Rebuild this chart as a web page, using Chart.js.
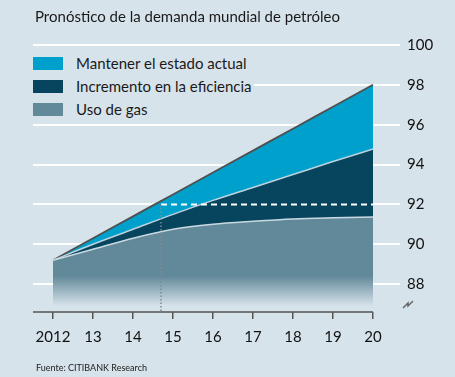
<!DOCTYPE html>
<html>
<head>
<meta charset="utf-8">
<script src="https://cdn.jsdelivr.net/npm/chart.js@4"></script>
<style>
  html, body { margin: 0; padding: 0; background: #d7e3ea; }
  #wrap { position: relative; width: 455px; height: 377px; font-family: Lato, sans-serif; color: #1a1a1a; }
  #wrap canvas { position: absolute; left: 0; top: 0; }
  #title { position: absolute; left: 35px; top: 7px; font-size: 15px; white-space: nowrap; }
  #legend { position: absolute; left: 30px; top: 50px; width: 224px; height: 68px; background: #d7e3ea; }
  .row { position: absolute; left: 3px; height: 16px; font-size: 15px; line-height: 16px; }
  .sw { position: absolute; left: 0; top: 1px; width: 30px; height: 13px; }
  .lbl { position: absolute; left: 43px; top: -1px; white-space: nowrap; }
  #src { position: absolute; left: 36px; top: 362px; font-size: 9px; white-space: nowrap; }
</style>
</head>
<body>
<div id="wrap">
  <canvas id="oilChart" width="455" height="377"></canvas>
  <div id="title">Pronóstico de la demanda mundial de petróleo</div>
  <div id="legend"></div>
  <div id="src">Fuente: CITIBANK Research</div>
</div>
<script>
var years = [2012, 2013, 2014, 2015, 2016, 2017, 2018, 2019, 2020];
var xLabels = ['2012', '13', '14', '15', '16', '17', '18', '19', '20'];
var yTicks = [88, 90, 92, 94, 96, 98, 100];

var seriesNames = ['Mantener el estado actual', 'Incremento en la eficiencia', 'Uso de gas'];
var maintain   = [89.2, 90.3, 91.4, 92.5, 93.6, 94.7, 95.8, 96.9, 98.0];
var efficiency = [89.2, 90.0, 90.75, 91.5, 92.2, 92.85, 93.5, 94.15, 94.78];
var gas        = [89.2, 89.75, 90.3, 90.75, 91.0, 91.15, 91.27, 91.33, 91.37];

// marker: 92 reached around late 2014
var markYear = 2014.7;
var markValue = 92;

var bg = '#d7e3ea';
var colors = ['#00a0cd', '#07445e', '#62899a'];

function pts(arr) {
  return arr.map(function (v, i) { return { x: years[i], y: v }; });
}

// legend as html
var legend = document.getElementById('legend');
seriesNames.forEach(function (name, i) {
  var row = document.createElement('div');
  row.className = 'row';
  row.style.top = (6 + i * 23) + 'px';
  row.innerHTML = '<span class="sw" style="background:' + colors[i] + '"></span><span class="lbl">' + name + '</span>';
  legend.appendChild(row);
});

function gasFill(context) {
  var chart = context.chart;
  var area = chart.chartArea;
  if (!area) return colors[2];
  var y = chart.scales.y;
  var g = chart.ctx.createLinearGradient(0, y.getPixelForValue(88.4), 0, area.bottom - 6);
  g.addColorStop(0, colors[2]);
  g.addColorStop(1, bg);
  return g;
}

var extras = {
  id: 'extras',
  afterDatasetsDraw: function (chart) {
    var ctx = chart.ctx, x = chart.scales.x, y = chart.scales.y, a = chart.chartArea;
    var xm = x.getPixelForValue(markYear);
    var ym = y.getPixelForValue(markValue);
    var xe = x.getPixelForValue(years[years.length - 1]);
    function line(x1, y1, x2, y2) {
      ctx.beginPath(); ctx.moveTo(x1, y1); ctx.lineTo(x2, y2); ctx.stroke();
    }
    ctx.save();
    ctx.strokeStyle = '#ffffff';
    ctx.lineWidth = 2;
    ctx.setLineDash([6, 4]);
    line(xm, ym, xe, ym);
    ctx.strokeStyle = '#7d8a92';
    ctx.lineWidth = 1.5;
    ctx.setLineDash([1.5, 2]);
    line(xm, ym, xm, a.bottom);
    ctx.setLineDash([]);
    ctx.strokeStyle = '#555';
    ctx.lineWidth = 1.5;
    line(a.left, a.bottom, xe, a.bottom);
    // axis break mark
    ctx.strokeStyle = '#666';
    ctx.lineWidth = 1.5;
    ctx.beginPath();
    ctx.moveTo(a.right + 3, a.bottom - 4);
    ctx.lineTo(a.right + 8, a.bottom - 9);
    ctx.lineTo(a.right + 8, a.bottom - 6);
    ctx.lineTo(a.right + 13, a.bottom - 11);
    ctx.stroke();
    ctx.restore();
  }
};

new Chart(document.getElementById('oilChart').getContext('2d'), {
  type: 'line',
  data: {
    datasets: [
      { label: seriesNames[2], data: pts(gas), backgroundColor: gasFill, borderColor: '#c9d9e1', borderWidth: 1.5, fill: 'start', pointRadius: 0, cubicInterpolationMode: 'monotone' },
      { label: seriesNames[1], data: pts(efficiency), backgroundColor: colors[1], borderColor: '#bcd3de', borderWidth: 1.5, fill: '-1', pointRadius: 0, cubicInterpolationMode: 'monotone' },
      { label: seriesNames[0], data: pts(maintain), backgroundColor: colors[0], borderColor: '#4f4f4f', borderWidth: 1.8, fill: '-1', pointRadius: 0, cubicInterpolationMode: 'monotone' }
    ]
  },
  options: {
    responsive: false, animation: false, devicePixelRatio: 1,
    layout: { padding: { left: 33, top: 37, right: 0, bottom: 0 } },
    plugins: { legend: { display: false }, tooltip: { enabled: false } },
    scales: {
      x: {
        type: 'linear', min: 2011.5, max: 2020.675,
        afterBuildTicks: function (s) { s.ticks = years.map(function (v) { return { value: v }; }); },
        afterFit: function (s) { s.height = 65; },
        ticks: {
          autoSkip: false, maxRotation: 0, padding: 9, color: '#111',
          font: { family: 'Lato', size: 15 },
          callback: function (v) { return xLabels[years.indexOf(v)]; }
        },
        grid: { drawOnChartArea: false, drawTicks: true, tickLength: 7, color: '#555', lineWidth: 1.5 },
        border: { display: false }
      },
      y: {
        position: 'right', min: 86.6, max: 100.4,
        afterBuildTicks: function (s) { s.ticks = yTicks.map(function (v) { return { value: v }; }); },
        afterFit: function (s) { s.width = 55; },
        ticks: { padding: 7, color: '#111', font: { family: 'Lato', size: 15 } },
        grid: { color: 'rgba(255,255,255,0.95)', lineWidth: 2, drawTicks: false },
        border: { display: false }
      }
    }
  },
  plugins: [extras]
});
</script>
</body>
</html>
